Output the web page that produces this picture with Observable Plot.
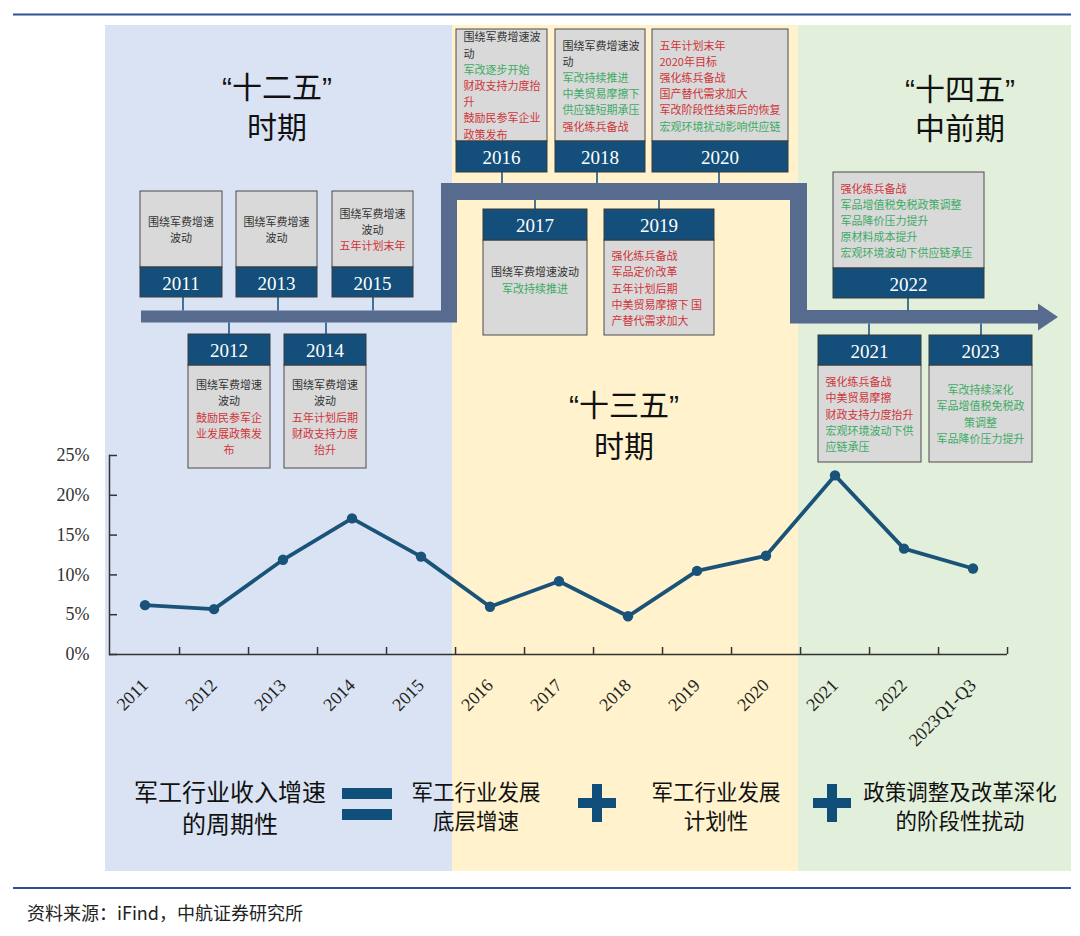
<!DOCTYPE html>
<html><head><meta charset="utf-8">
<script src="https://cdn.jsdelivr.net/npm/d3@7"></script>
<script src="https://cdn.jsdelivr.net/npm/@observablehq/plot@0.6"></script>
<style>html,body{margin:0;padding:0;background:#fff;overflow:hidden}</style>
</head><body><div id="chart"></div>
<script>
// ---------- DATA ----------
const categories = ["2011","2012","2013","2014","2015","2016","2017","2018","2019","2020","2021","2022","2023Q1-Q3"];
const growth = [6.2, 5.7, 11.9, 17.1, 12.3, 6.0, 9.2, 4.8, 10.5, 12.4, 22.5, 13.3, 10.8];
const yTicks = [0, 5, 10, 15, 20, 25];

const boxYears = ["2011","2012","2013","2014","2015","2016","2017","2018","2019","2020","2021","2022","2023"];
// each line: [text, tone]  k = black, r = red, g = green
const boxLines = [
  [["围绕军费增速","k"],["波动","k"]],
  [["围绕军费增速","k"],["波动","k"],["鼓励民参军企","r"],["业发展政策发","r"],["布","r"]],
  [["围绕军费增速","k"],["波动","k"]],
  [["围绕军费增速","k"],["波动","k"],["五年计划后期","r"],["财政支持力度","r"],["抬升","r"]],
  [["围绕军费增速","k"],["波动","k"],["五年计划末年","r"]],
  [["围绕军费增速波","k"],["动","k"],["军改逐步开始","g"],["财政支持力度抬","r"],["升","r"],["鼓励民参军企业","r"],["政策发布","r"]],
  [["围绕军费增速波动","k"],["军改持续推进","g"]],
  [["围绕军费增速波","k"],["动","k"],["军改持续推进","g"],["中美贸易摩擦下","g"],["供应链短期承压","g"],["强化练兵备战","r"]],
  [["强化练兵备战","r"],["军品定价改革","r"],["五年计划后期","r"],["中美贸易摩擦下 国","r"],["产替代需求加大","r"]],
  [["五年计划末年","r"],["2020年目标","r"],["强化练兵备战","r"],["国产替代需求加大","r"],["军改阶段性结束后的恢复","r"],["宏观环境扰动影响供应链","g"]],
  [["强化练兵备战","r"],["中美贸易摩擦","r"],["财政支持力度抬升","r"],["宏观环境波动下供","g"],["应链承压","g"]],
  [["强化练兵备战","r"],["军品增值税免税政策调整","g"],["军品降价压力提升","g"],["原材料成本提升","g"],["宏观环境波动下供应链承压","g"]],
  [["军改持续深化","g"],["军品增值税免税政","g"],["策调整","g"],["军品降价压力提升","g"]]
];
const eraTitles = [["“十二五”","时期"],["“十三五”","时期"],["“十四五”","中前期"]];
const formulaTerms = [["军工行业收入增速","的周期性"],["军工行业发展","底层增速"],["军工行业发展","计划性"],["政策调整及改革深化","的阶段性扰动"]];
const sourceNote = "资料来源：iFind，中航证券研究所";

// ---------- LAYOUT / STYLE ----------
const W = 1080, H = 936, mL = 109, mR = 73, mT = 455, mB = 282;
const bw = (W - mL - mR) / categories.length;
const frameH = H - mT - mB;
const serif = "'Liberation Serif','Times New Roman',serif";
const cjk = "'Noto Sans CJK SC','Noto Sans',sans-serif";
const titleFont = "'Liberation Sans','Noto Sans CJK SC',sans-serif";
const tone = {k: "#333333", r: "#d0343a", g: "#3cab64"};
const lineColor = "#1a5379";
const navy = "#134f7a";

// box geometry: pos up = year band below body; down = band above body
const boxGeo = [
  {x:140,w:82,top:191,band:267,bot:297,pos:"up",cx:183,al:"c"},
  {x:188,w:82,top:334,band:365,bot:468,pos:"down",cx:229,al:"c"},
  {x:236,w:81,top:191,band:267,bot:297,pos:"up",cx:278,al:"c"},
  {x:284,w:82,top:334,band:365,bot:468,pos:"down",cx:326,al:"c"},
  {x:332,w:81,top:191,band:267,bot:297,pos:"up",cx:373,al:"c"},
  {x:456,w:91,top:29,band:141,bot:172,pos:"up",cx:502,al:"l"},
  {x:483,w:104,top:209,band:240,bot:335,pos:"down",cx:535,al:"c",off:-8},
  {x:555,w:90,top:29,band:141,bot:172,pos:"up",cx:597,al:"l"},
  {x:604,w:110,top:209,band:240,bot:335,pos:"down",cx:659,al:"l"},
  {x:652,w:136,top:29,band:141,bot:172,pos:"up",cx:719,al:"l"},
  {x:818,w:103,top:335,band:365,bot:462,pos:"down",cx:869,al:"l"},
  {x:833,w:151,top:172,band:268,bot:298,pos:"up",cx:908,al:"l"},
  {x:929,w:103,top:335,band:365,bot:462,pos:"down",cx:981,al:"c"}
];
// timeline edges for connectors
const tl = {lowTop:310.5, lowBot:322.5, upTop:183, upBot:200};

// ---------- CHART ----------
const data = categories.map((c, i) => ({cat: c, v: growth[i]}));
const plot = Plot.plot({
  width: W, height: H,
  marginLeft: mL, marginRight: mR, marginTop: mT, marginBottom: mB,
  style: {background: "transparent", fontFamily: serif, overflow: "visible"},
  x: {type: "band", domain: categories, padding: 0, axis: null, label: null},
  y: {domain: [0, 25], axis: null, label: null},
  marks: [
    Plot.axisY(yTicks, {tickSize: 0, tickPadding: 20, tickFormat: d => d + "%", fontSize: 18, fill: "#333", fontFamily: serif, label: null}),
    Plot.gridY(yTicks, {stroke: "#333", strokeOpacity: 1, strokeWidth: 1.5, insetRight: W - mL - mR - 8}),
    Plot.gridX(categories, {stroke: "#333", strokeOpacity: 1, strokeWidth: 1.5, dx: bw / 2, insetTop: frameH - 7}),
    Plot.ruleY([0], {stroke: "#333", strokeWidth: 1.5}),
    Plot.frame({anchor: "left", stroke: "#333", strokeWidth: 1.5}),
    Plot.text(categories, {x: d => d, y: d => 0, text: d => d, rotate: -45, textAnchor: "end", lineAnchor: "bottom", dx: 4, dy: 32, fontSize: 18, fill: "#222", fontFamily: serif}),
    Plot.line(data, {x: "cat", y: "v", stroke: lineColor, strokeWidth: 3.8}),
    Plot.dot(data, {x: "cat", y: "v", r: 5.2, fill: lineColor})
  ]
});
document.getElementById("chart").appendChild(plot);

// ---------- INFOGRAPHIC LAYER ----------
const svg = d3.select(plot);
const g = svg.insert("g", ":first-child").attr("text-anchor", "start");

// period panels
const panels = [[105, 452, "#dae3f3"], [452, 798, "#fff2cc"], [798, 1071, "#e2efda"]];
panels.forEach(([x0, x1, c]) => g.append("rect").attr("x", x0).attr("y", 25).attr("width", x1 - x0).attr("height", 846).attr("fill", c));

// horizontal rules
[14.5, 888].forEach(y => g.append("line").attr("x1", 13).attr("x2", 1071).attr("y1", y).attr("y2", y).attr("stroke", "#2f5496").attr("stroke-width", 2));

// timeline polygon
const tlPts = [[141,310.5],[441,310.5],[441,183],[807,183],[807,310],[1038,310],[1038,303.5],[1058,317],[1038,330.5],[1038,323.5],[790,323.5],[790,200],[457,200],[457,322.5],[141,322.5]];
g.append("polygon").attr("points", tlPts.map(p => p.join(",")).join(" ")).attr("fill", "#566b8d");

// era titles
const eraPos = [[277, 87, 127], [624, 405, 446], [960, 89, 128]];
eraTitles.forEach((lines, i) => {
  const [cx, y1, y2] = eraPos[i];
  [y1, y2].forEach((y, j) => g.append("text").attr("x", cx).attr("y", y).attr("text-anchor", "middle")
    .attr("dominant-baseline", "central").attr("font-family", titleFont).attr("font-size", 30).attr("fill", "#111").text(lines[j]));
});

// boxes
boxYears.forEach((yr, i) => {
  const b = boxGeo[i];
  let bodyTop, bodyBot, bandTop, bandBot, cy1, cy2;
  if (b.pos === "up") {
    bodyTop = b.top; bodyBot = b.band; bandTop = b.band; bandBot = b.bot;
    const low = (i === 11) ? tl.lowTop : (i >= 5 ? tl.upTop : tl.lowTop);
    cy1 = b.bot; cy2 = low;
  } else {
    bandTop = b.top; bandBot = b.band; bodyTop = b.band; bodyBot = b.bot;
    const hi = (i >= 10) ? tl.lowBot + 1 : (i >= 5 ? tl.upBot : tl.lowBot);
    cy1 = hi; cy2 = b.top;
  }
  g.append("line").attr("x1", b.cx).attr("x2", b.cx).attr("y1", cy1).attr("y2", cy2).attr("stroke", "#1f5482").attr("stroke-width", 1.6);
  g.append("rect").attr("x", b.x).attr("y", bodyTop).attr("width", b.w).attr("height", bodyBot - bodyTop)
    .attr("fill", "#d9d9d9").attr("stroke", "#4a4a4a").attr("stroke-width", 1);
  g.append("rect").attr("x", b.x).attr("y", bandTop).attr("width", b.w).attr("height", bandBot - bandTop)
    .attr("fill", navy).attr("stroke", "#3a3a3a").attr("stroke-width", 1);
  g.append("text").attr("x", b.x + b.w / 2).attr("y", (bandTop + bandBot) / 2 + 1).attr("text-anchor", "middle")
    .attr("dominant-baseline", "central").attr("font-family", serif).attr("font-size", 19).attr("fill", "#fff").text(yr);
  const lines = boxLines[i], n = lines.length, lh = 16.2;
  const cy = (bodyTop + bodyBot) / 2 + (b.off || 0);
  lines.forEach(([t, c], j) => {
    g.append("text").attr("x", b.al === "c" ? b.x + b.w / 2 : b.x + 7.5).attr("y", cy - (n - 1) * lh / 2 + j * lh)
      .attr("text-anchor", b.al === "c" ? "middle" : "start").attr("dominant-baseline", "central")
      .attr("font-family", cjk).attr("font-size", 11).attr("fill", tone[c]).text(t);
  });
});

// formula row
const fPos = [[230, 24, 790, 822], [476, 21.5, 790, 819], [716, 21.5, 790, 819], [960, 21.5, 790, 819]];
formulaTerms.forEach((lines, i) => {
  const [cx, fs, y1, y2] = fPos[i];
  [y1, y2].forEach((y, j) => g.append("text").attr("x", cx).attr("y", y).attr("text-anchor", "middle")
    .attr("dominant-baseline", "central").attr("font-family", cjk).attr("font-size", fs).attr("fill", "#111").text(lines[j]));
});
const opColor = "#0f4f7a";
[788, 809].forEach(y => g.append("rect").attr("x", 342).attr("y", y).attr("width", 50).attr("height", 11).attr("fill", opColor));
[597, 832].forEach(cx => {
  g.append("rect").attr("x", cx - 19).attr("y", 798).attr("width", 38).attr("height", 10).attr("fill", opColor);
  g.append("rect").attr("x", cx - 5).attr("y", 784).attr("width", 10).attr("height", 38).attr("fill", opColor);
});

// source note
g.append("text").attr("x", 27).attr("y", 912).attr("text-anchor", "start").attr("dominant-baseline", "central").attr("font-family", cjk)
  .attr("font-size", 18).attr("fill", "#222").text(sourceNote);
</script></body></html>
